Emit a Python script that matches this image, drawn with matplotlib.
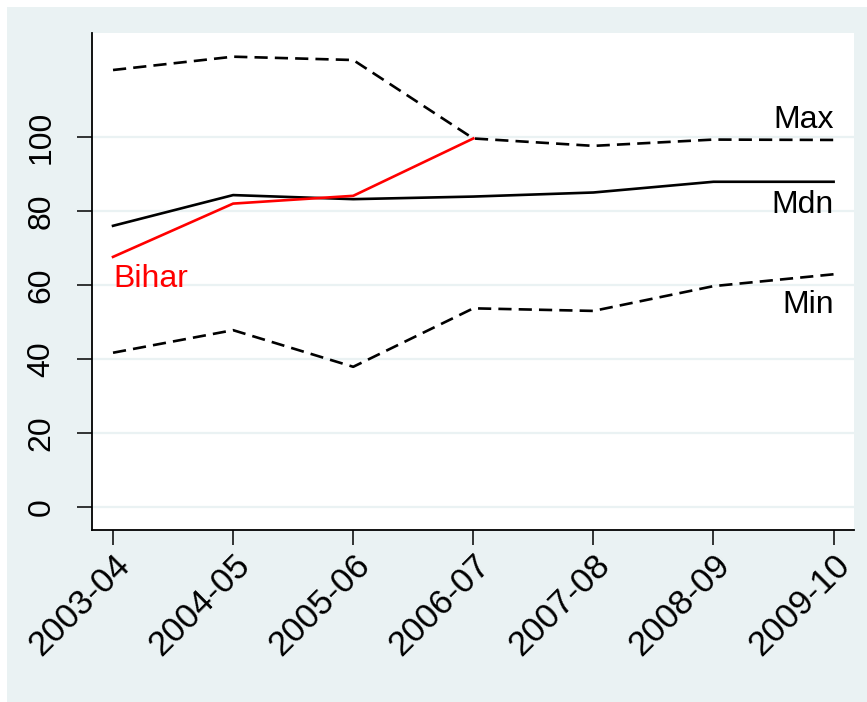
import matplotlib
matplotlib.use('Agg')
import matplotlib.pyplot as plt
from matplotlib.patches import Rectangle

# Data
years = ['2003-04', '2004-05', '2005-06', '2006-07', '2007-08', '2008-09', '2009-10']
max_vals = [118.2, 121.8, 120.9, 99.7, 97.7, 99.4, 99.3]
mdn_vals = [76.1, 84.4, 83.3, 84.0, 85.1, 88.0, 88.0]
min_vals = [41.8, 47.9, 38.0, 53.8, 53.1, 59.8, 63.0]
bihar_vals = [67.7, 82.1, 84.2, 99.7]
y_ticks = [0, 20, 40, 60, 80, 100]

bg = '#EAF2F3'
plt.rcParams['font.family'] = ['Liberation Sans', 'DejaVu Sans']

fig = plt.figure(figsize=(8.67, 7.02), dpi=100)
fig.patch.set_facecolor('white')
fig.add_artist(Rectangle((7 / 867, 0), 1 - 7 / 867, 1 - 7 / 702,
                         transform=fig.transFigure, facecolor=bg,
                         edgecolor='none', zorder=-10))

ax = fig.add_axes([92 / 867, (702 - 530) / 702, (854 - 92) / 867, (530 - 33) / 702])
ax.set_facecolor('white')

x = list(range(len(years)))
ax.plot(x, max_vals, color='black', lw=1.9, dashes=[5.0, 2.7])
ax.plot(x, mdn_vals, color='black', lw=1.9)
ax.plot(x, min_vals, color='black', lw=1.9, dashes=[5.0, 2.7])
ax.plot(x[:len(bihar_vals)], bihar_vals, color='red', lw=1.9)

# Line labels
ax.text(6, 104.7, 'Max', ha='right', va='center', fontsize=23)
ax.text(6, 81.6, 'Mdn', ha='right', va='center', fontsize=23)
ax.text(6, 54.7, 'Min', ha='right', va='center', fontsize=23)
ax.text(0, 61.6, 'Bihar', ha='left', va='center', fontsize=23, color='red')

for t in y_ticks:
    ax.axhline(t, color=bg, lw=1.6, zorder=0)

ax.set_xlim(-0.175, 6.17)
ax.set_ylim(-6.1, 128.2)
ax.set_yticks(y_ticks)
ax.set_xticks(x)
ax.set_xticklabels(years, rotation=45, ha='right', va='top', rotation_mode='anchor',
                   fontsize=25)
for lab in ax.get_yticklabels():
    lab.set_rotation(90)
    lab.set_va('center')
    lab.set_fontsize(23)

ax.tick_params(axis='both', direction='out', length=10.5, width=1.1, colors='black')
ax.tick_params(axis='y', pad=15)
ax.tick_params(axis='x', pad=3)

for side in ['top', 'right']:
    ax.spines[side].set_visible(False)
for side in ['left', 'bottom']:
    ax.spines[side].set_linewidth(1.3)

fig.savefig('out.png', dpi=100, facecolor=fig.get_facecolor())
